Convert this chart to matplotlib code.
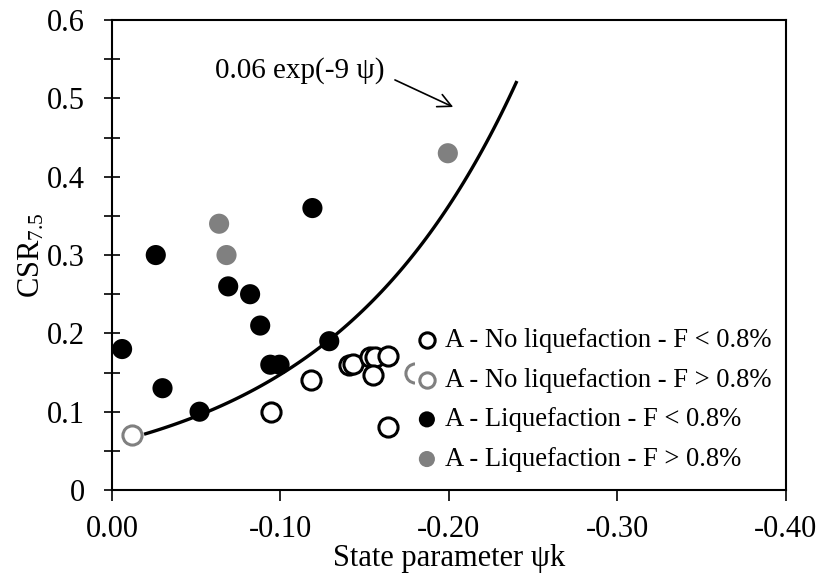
import numpy as np
import matplotlib
matplotlib.use('Agg')
import matplotlib.pyplot as plt

plt.rcParams['font.family'] = ['Liberation Serif', 'DejaVu Serif']
plt.rcParams['mathtext.fontset'] = 'custom'
plt.rcParams['mathtext.rm'] = 'Liberation Serif'
plt.rcParams['mathtext.it'] = 'Liberation Serif:italic'
plt.rcParams['axes.unicode_minus'] = False

# state parameter (psi) and CSR for each group
no_liq_low_psi = [-0.0945, -0.118, -0.1405, -0.143, -0.153, -0.156, -0.155, -0.164, -0.164]
no_liq_low_csr = [0.10, 0.14, 0.16, 0.161, 0.170, 0.170, 0.147, 0.171, 0.08]

no_liq_high_psi = [-0.012, -0.18]
no_liq_high_csr = [0.07, 0.149]

liq_low_psi = [-0.026, -0.069, -0.082, -0.088, -0.006, -0.030, -0.052, -0.094, -0.0995, -0.129, -0.119]
liq_low_csr = [0.30, 0.26, 0.25, 0.21, 0.18, 0.13, 0.10, 0.16, 0.16, 0.19, 0.36]

liq_high_psi = [-0.0636, -0.068, -0.1994]
liq_high_csr = [0.34, 0.30, 0.43]

# trend line 0.06 exp(-9 psi)
curve_psi = np.linspace(-0.02, -0.24, 100)
curve_csr = 0.06 * np.exp(-9 * curve_psi)

gray = '#808080'

fig = plt.figure(figsize=(8.21, 5.74), dpi=100)
ax = fig.add_axes([0.1364, 0.1463, 0.8206, 0.8187])

ax.plot(curve_psi, curve_csr, color='black', lw=2.4, zorder=2)

ax.scatter(no_liq_low_psi, no_liq_low_csr, s=190, facecolors='white', edgecolors='black',
           linewidths=2.2, label='A - No liquefaction - F < 0.8%', zorder=3)
ax.scatter(no_liq_high_psi, no_liq_high_csr, s=190, facecolors='white', edgecolors=gray,
           linewidths=2.2, label='A - No liquefaction - F > 0.8%', zorder=3)
ax.scatter(liq_low_psi, liq_low_csr, s=210, color='black', edgecolors='none',
           label='A - Liquefaction - F < 0.8%', zorder=3)
ax.scatter(liq_high_psi, liq_high_csr, s=210, color=gray, edgecolors='none',
           label='A - Liquefaction - F > 0.8%', zorder=3)

# equation label and arrow
ax.text(-0.162, 0.535, '0.06 exp(-9 ψ)', fontsize=21, ha='right', va='center')
ax.annotate('', xy=(-0.2026, 0.489), xytext=(-0.168, 0.5236),
            arrowprops=dict(arrowstyle='->', color='black', lw=1.2, mutation_scale=24,
                            shrinkA=0, shrinkB=0))

ax.set_xlim(0, -0.40)
ax.set_ylim(0, 0.6)
ax.set_xticks([0, -0.1, -0.2, -0.3, -0.4])
ax.set_xticklabels(['0.00', '-0.10', '-0.20', '-0.30', '-0.40'])
ax.set_yticks(np.arange(0, 0.61, 0.05))
ax.set_yticklabels(['0', '', '0.1', '', '0.2', '', '0.3', '', '0.4', '', '0.5', '', '0.6'])

ax.tick_params(axis='x', direction='out', length=8, width=1.2, labelsize=22, pad=10)
ax.tick_params(axis='y', direction='inout', length=11, width=1.2, labelsize=22, pad=14)
for sp in ax.spines.values():
    sp.set_linewidth(1.5)

ax.set_xlabel('State parameter ψk', fontsize=22, labelpad=0)
ax.set_ylabel('CSR$_{7.5}$', fontsize=22, labelpad=0)

# legend box is white and sits over the points, as in the original
leg = ax.legend(loc='upper left', bbox_to_anchor=(0.4496, 0.3532), frameon=True,
                fancybox=False, facecolor='white', edgecolor='none', framealpha=1,
                fontsize=19.2, handlelength=0.6, handletextpad=0.37, borderaxespad=0,
                borderpad=0.15, labelspacing=0.55, markerscale=0.8)

fig.savefig('out.png', dpi=100)
